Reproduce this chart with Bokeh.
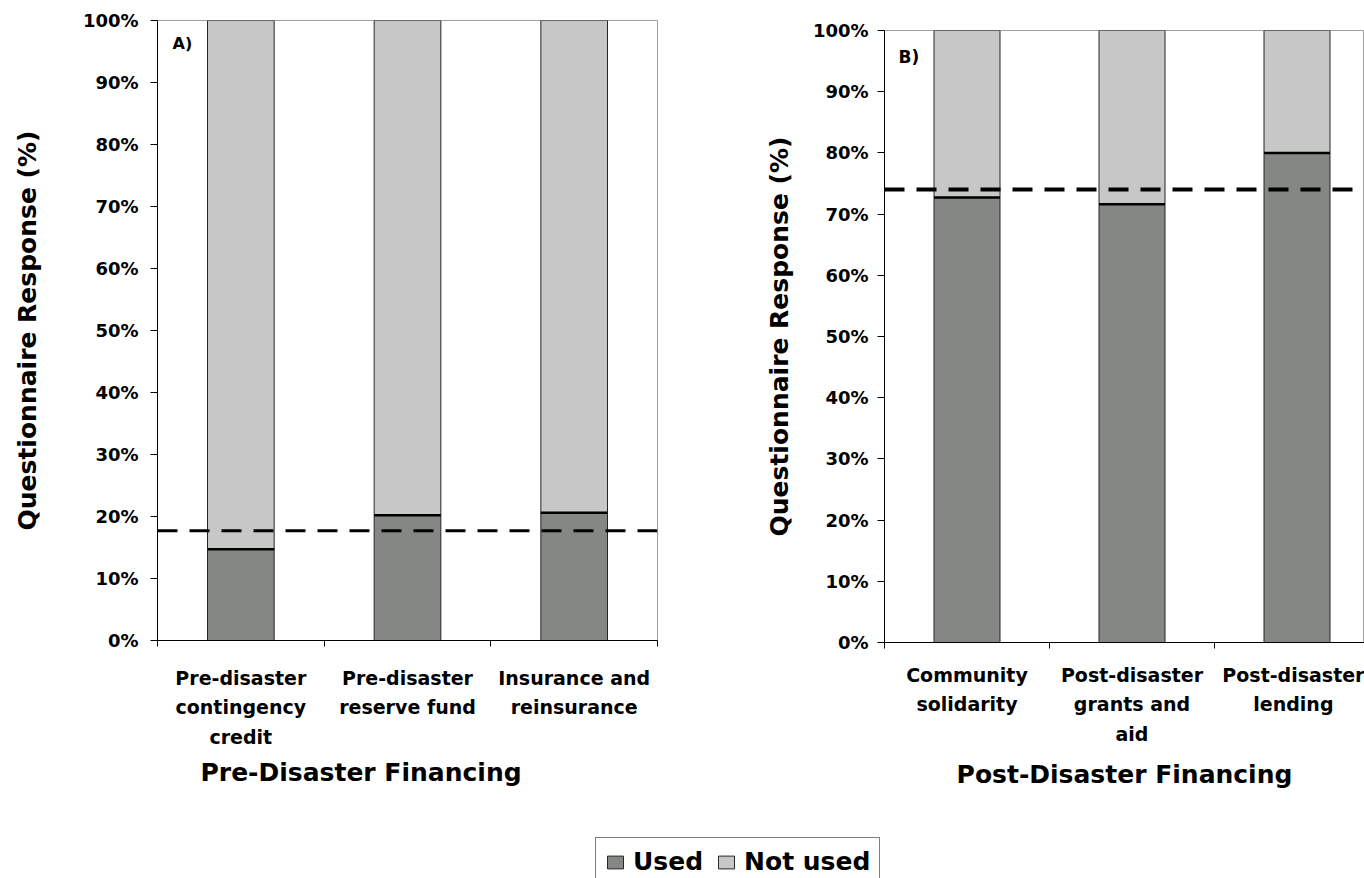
from bokeh.plotting import figure
from bokeh.models import (Range1d, FixedTicker, PrintfTickFormatter, Span, Label,
                          Legend, LegendItem, ColumnDataSource, Title)
from bokeh.layouts import column, row
from bokeh.embed import file_html
from bokeh.resources import INLINE

FONT = "DejaVu Sans"
USED_COLOR = "#858784"
NOT_USED_COLOR = "#c7c7c7"

# ---- data (percent of questionnaire responses) ----
pre_categories = ["Pre-disaster\ncontingency\ncredit", "Pre-disaster\nreserve fund", "Insurance and\nreinsurance"]
pre_used = [14.7, 20.2, 20.6]
pre_not_used = [85.3, 79.8, 79.4]
pre_average = 17.7

post_categories = ["Community\nsolidarity", "Post-disaster\ngrants and\naid", "Post-disaster\nlending"]
post_used = [72.7, 71.6, 80.0]
post_not_used = [27.3, 28.4, 20.0]
post_average = 74.0

y_ticks = [0, 10, 20, 30, 40, 50, 60, 70, 80, 90, 100]
BAR_W = 0.4


def make_panel(categories, used, not_used, average, tag, width, height,
               bl, br, bt, bb, x_end, ylab_standoff, yaxis_label_standoff, xlab_standoff,
               dash_width, tag_x, tag_y, tag_size):
    p = figure(width=width, height=height, output_backend="svg", toolbar_location=None,
               x_range=Range1d(0, x_end), y_range=Range1d(0, 100),
               min_border_left=bl, min_border_right=br, min_border_top=bt, min_border_bottom=bb)
    p.grid.visible = False
    p.outline_line_color = "#a0a0a0"
    p.outline_line_width = 1
    p.background_fill_color = "white"
    p.border_fill_color = "white"

    xs = [i + 0.5 for i in range(len(categories))]
    src = ColumnDataSource(dict(x=xs, used=used, not_used=not_used,
                                x0=[x - BAR_W / 2 for x in xs], x1=[x + BAR_W / 2 for x in xs]))
    p.vbar_stack(["used", "not_used"], x="x", width=BAR_W, source=src,
                 fill_color=[USED_COLOR, NOT_USED_COLOR], line_color="#262626", line_width=1)
    p.segment(x0="x0", x1="x1", y0="used", y1="used", source=src, line_color="black", line_width=2.5)

    p.add_layout(Span(location=average, dimension="width", line_color="black",
                      line_width=dash_width, line_dash="20 12"))

    p.add_layout(Label(x=tag_x, y=tag_y, text=tag, text_font=FONT, text_font_style="bold",
                       text_font_size=tag_size, text_baseline="middle", text_color="black"))

    # x axis: category labels centred, ticks at category boundaries
    xa = p.xaxis[0]
    xa.ticker = FixedTicker(ticks=xs, minor_ticks=[0, 1, 2, 3])
    xa.major_label_overrides = {x: c for x, c in zip(xs, categories)}
    xa.major_tick_line_color = None
    xa.major_tick_in = 0
    xa.major_tick_out = 6
    xa.minor_tick_in = 0
    xa.minor_tick_out = 6
    xa.minor_tick_line_color = "black"
    xa.axis_line_color = "black"
    xa.major_label_text_font = FONT
    xa.major_label_text_font_style = "bold"
    xa.major_label_text_font_size = "19px"
    xa.major_label_text_color = "black"
    xa.major_label_text_line_height = 1.36
    xa.major_label_standoff = xlab_standoff

    ya = p.yaxis[0]
    ya.ticker = FixedTicker(ticks=y_ticks, minor_ticks=[])
    ya.formatter = PrintfTickFormatter(format="%d%%")
    ya.major_tick_in = 0
    ya.major_tick_out = 7
    ya.minor_tick_line_color = None
    ya.axis_line_color = "black"
    ya.major_tick_line_color = "black"
    ya.major_label_text_font = FONT
    ya.major_label_text_font_style = "bold"
    ya.major_label_text_font_size = "18px"
    ya.major_label_text_color = "black"
    ya.major_label_standoff = ylab_standoff
    ya.axis_label = "Questionnaire Response (%)"
    ya.axis_label_text_font = FONT
    ya.axis_label_text_font_style = "bold"
    ya.axis_label_text_font_size = "25px"
    ya.axis_label_text_color = "black"
    ya.axis_label_standoff = yaxis_label_standoff
    return p


left = make_panel(pre_categories, pre_used, pre_not_used, pre_average, "A)",
                  width=700, height=837, bl=157, br=43, bt=20, bb=197, x_end=3,
                  ylab_standoff=12, yaxis_label_standoff=38, xlab_standoff=20, dash_width=3,
                  tag_x=0.09, tag_y=96.3, tag_size="16px")
left.add_layout(Title(text="Pre-Disaster Financing", align="left", offset=43,
                      text_font=FONT, text_font_style="bold", text_font_size="25px",
                      text_color="black", standoff=8), "below")

right = make_panel(post_categories, post_used, post_not_used, post_average, "B)",
                   width=664, height=837, bl=184, br=0, bt=30, bb=195, x_end=480 / 165,
                   ylab_standoff=9, yaxis_label_standoff=16, xlab_standoff=15, dash_width=4,
                   tag_x=0.085, tag_y=95.7, tag_size="17px")
rxa = right.xaxis[0]
rxa.axis_label = "Post-Disaster Financing"
rxa.axis_label_text_font = FONT
rxa.axis_label_text_font_style = "bold"
rxa.axis_label_text_font_size = "25px"
rxa.axis_label_text_color = "black"
rxa.axis_label_standoff = 12

# ---- legend strip ----
leg = figure(width=1364, height=41, output_backend="svg", toolbar_location=None,
             x_range=Range1d(0, 1), y_range=Range1d(0, 1),
             x_axis_location=None, y_axis_location=None,
             min_border_left=595, min_border_right=0, min_border_top=0, min_border_bottom=0)
leg.grid.visible = False
leg.outline_line_color = None
legend_src = ColumnDataSource(dict(x=[50], top=[50]))  # outside the strip's view
r_used = leg.vbar(x="x", top="top", width=0.1, source=legend_src, fill_color=USED_COLOR, line_color="#262626")
r_not = leg.vbar(x="x", top="top", width=0.1, source=legend_src, fill_color=NOT_USED_COLOR, line_color="#262626")
legend = Legend(items=[LegendItem(label="Used", renderers=[r_used]),
                       LegendItem(label="Not used", renderers=[r_not])],
                orientation="horizontal", location="top_left",
                label_text_font=FONT, label_text_font_style="bold", label_text_font_size="25px",
                label_text_color="black", glyph_width=20, glyph_height=16, label_standoff=8,
                spacing=13, padding=9, margin=0,
                border_line_color="black", border_line_width=1.5, background_fill_color="white")
leg.add_layout(legend)

layout = column(row(column(left), column(right)), leg)
open("out.html", "w").write(file_html(layout, INLINE))
